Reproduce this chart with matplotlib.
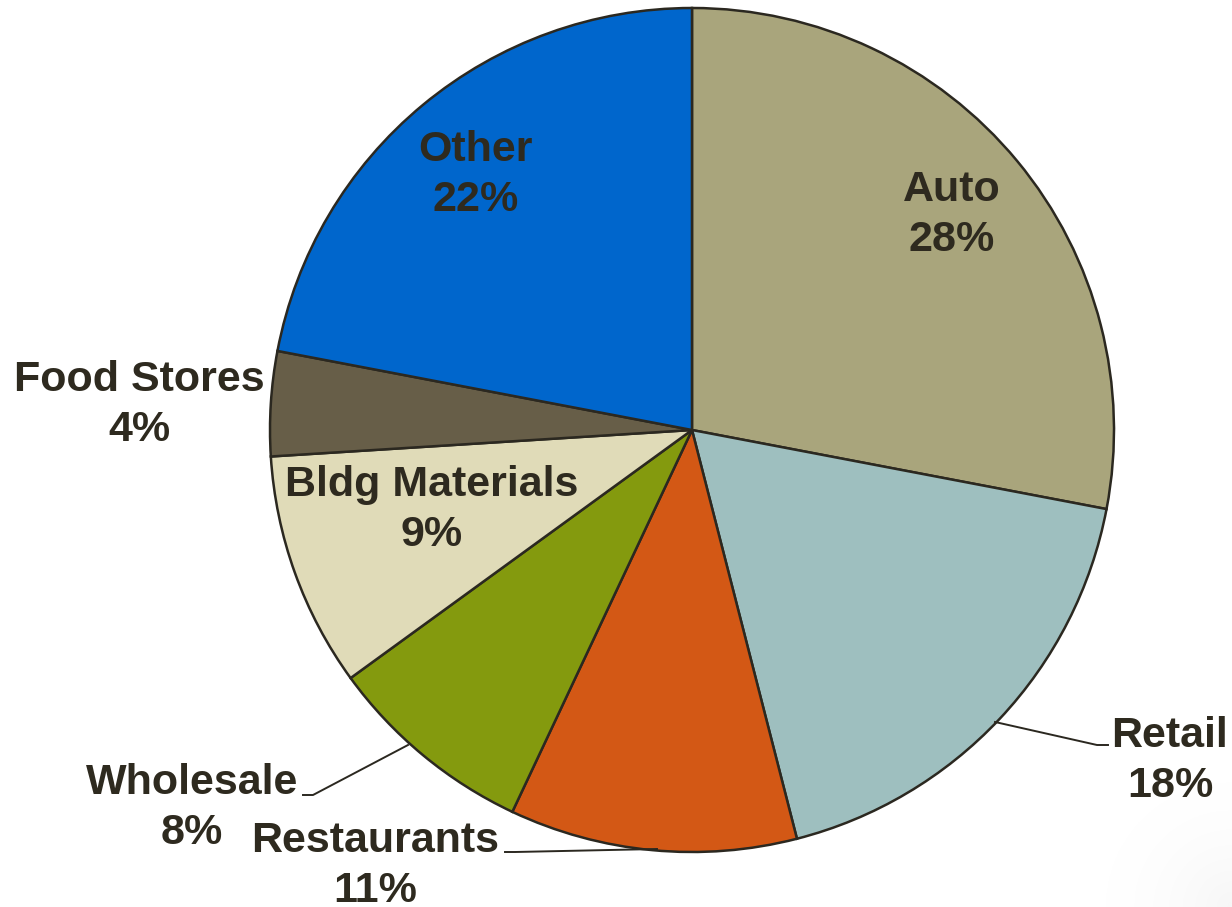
import numpy as np
import matplotlib
matplotlib.use("Agg")
import matplotlib.pyplot as plt

plt.rcParams['font.family'] = ['Liberation Sans', 'DejaVu Sans']

# sales tax share by business group, clockwise from 12 o'clock
categories = ['Auto', 'Retail', 'Restaurants', 'Wholesale',
              'Bldg Materials', 'Food Stores', 'Other']
shares = [28, 18, 11, 8, 9, 4, 22]
colors = ['#A9A57C', '#9EBFBF', '#D35815', '#849A0E',
          '#E0DBB8', '#675E48', '#0066CC']

text_color = '#2E2A1F'
edge_color = '#2B2820'

W, H = 1232, 907
fig = plt.figure(figsize=(W / 100, H / 100), dpi=100)
ax = fig.add_axes([0, 0, 1, 1])

# faint grey shading fading out from the lower right corner
gx, gy = np.meshgrid(np.linspace(0, 1, 300), np.linspace(0, 1, 300))
dist = np.hypot(1 - gx, 1 - gy)
shade = np.clip(1 - dist / 0.9, 0, None) ** 2
ax.imshow(shade, extent=(1050, W, 0, 180), cmap='Greys', vmin=0, vmax=14,
          origin='upper', zorder=0, aspect='auto')

cx, cy, r = 692, H - 430, 422
wedges, _ = ax.pie(shares, colors=colors, startangle=90, counterclock=False,
                   center=(cx, cy), radius=r, frame=True,
                   wedgeprops=dict(edgecolor=edge_color, linewidth=1.8))
ax.set_xlim(0, W)
ax.set_ylim(0, H)
ax.set_aspect('equal')
ax.axis('off')

# label anchor points (pixel coords from top-left)
label_pos = {
    'Auto': (952, 215),
    'Retail': (1170, 761),
    'Restaurants': (375, 866),
    'Wholesale': (192, 808),
    'Bldg Materials': (432, 510),
    'Food Stores': (139, 405),
    'Other': (476, 175),
}
for name, val in zip(categories, shares):
    x, y = label_pos[name]
    ax.text(x, H - y, f'{name}\n{val}%', ha='center', va='center',
            fontsize=31, fontweight='bold', color=text_color,
            linespacing=1.3, zorder=5)

# leader lines for labels outside the pie
leaders = [
    [(995, 722), (1097, 745), (1108, 745)],
    [(408, 745), (313, 795), (303, 795)],
    [(657, 849), (515, 852), (505, 852)],
]
for pts in leaders:
    xs = [p[0] for p in pts]
    ys = [H - p[1] for p in pts]
    ax.plot(xs, ys, color=edge_color, linewidth=1.4, zorder=4)

fig.savefig('out.png', dpi=100)
